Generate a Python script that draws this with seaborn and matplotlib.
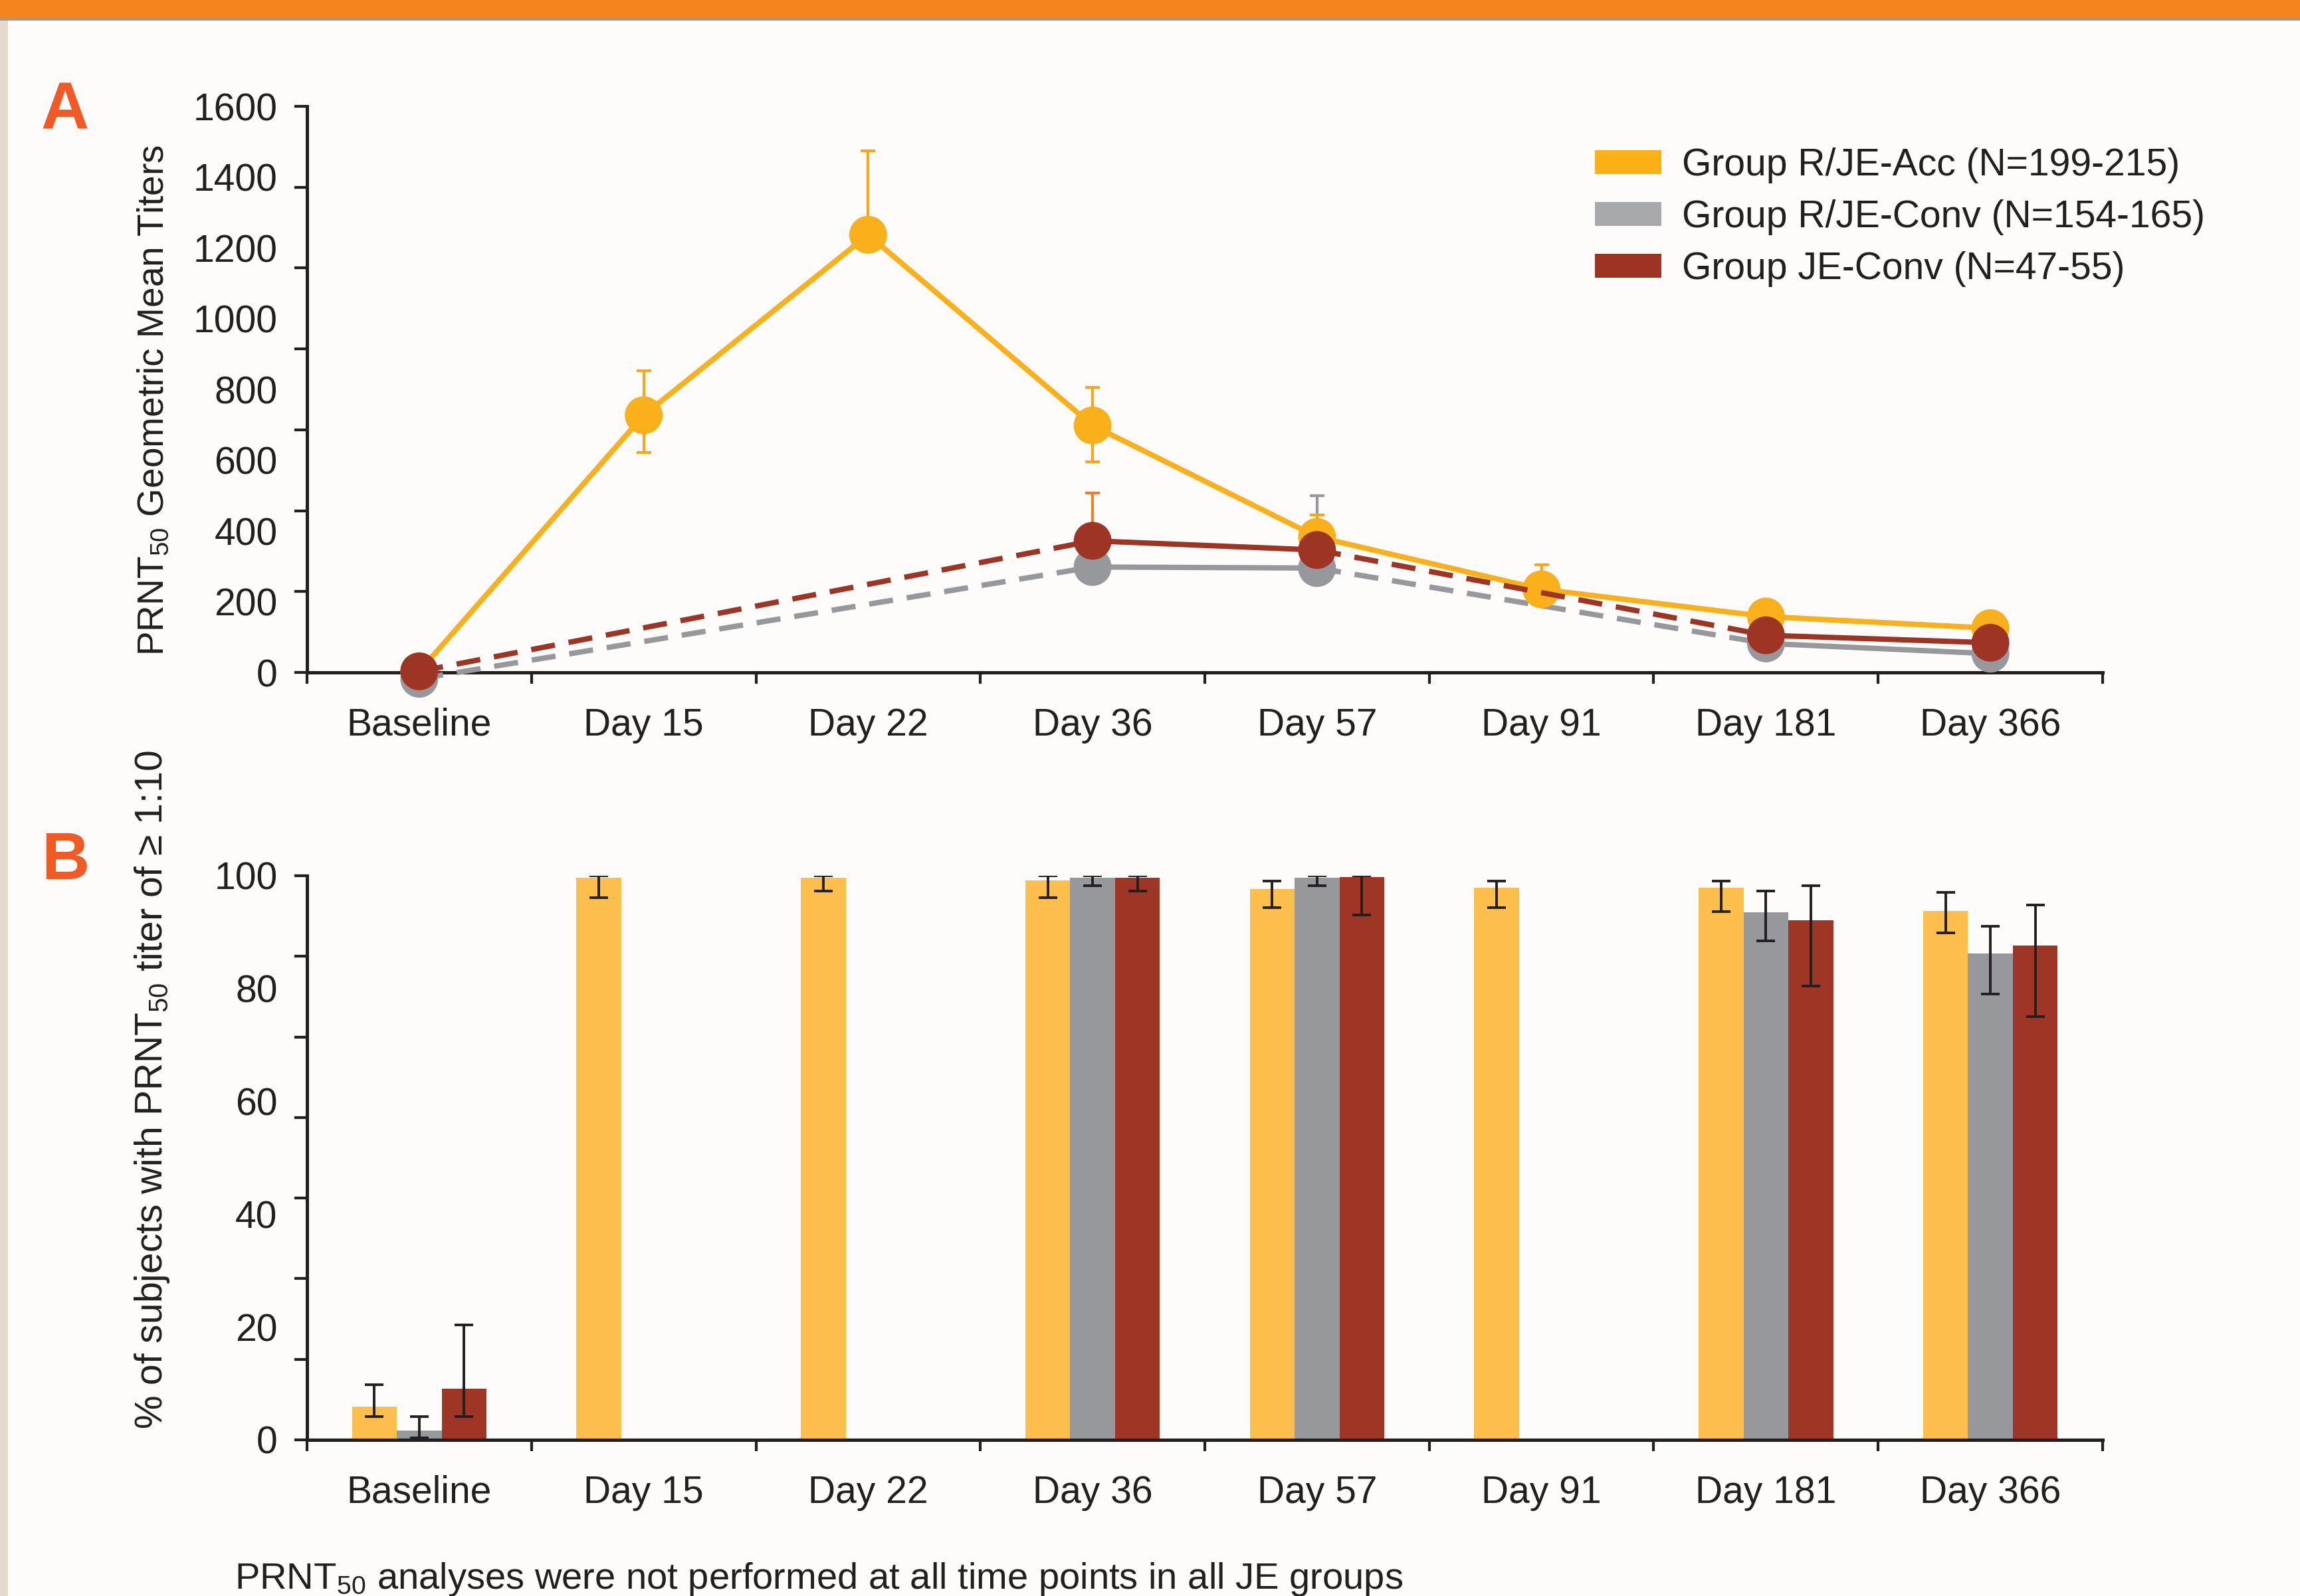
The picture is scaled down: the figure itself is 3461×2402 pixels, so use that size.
import numpy as np
import pandas as pd
import seaborn as sns
import matplotlib.pyplot as plt
from matplotlib.patches import Patch, Rectangle
from matplotlib.ticker import FixedLocator

# ---- data ----
timepoints = ["Baseline", "Day 15", "Day 22", "Day 36", "Day 57", "Day 91", "Day 181", "Day 366"]
groups = ["Group R/JE-Acc (N=199-215)", "Group R/JE-Conv (N=154-165)", "Group JE-Conv (N=47-55)"]

# panel A: PRNT50 geometric mean titers (NaN = not measured)
gmt_acc = [3, 727, 1237, 698, 383, 235, 158, 125]
gmt_acc_lo = [np.nan, 622, np.nan, 596, np.nan, np.nan, np.nan, np.nan]
gmt_acc_hi = [np.nan, 852, 1475, 806, 446, 304, np.nan, np.nan]
gmt_rconv = [-18, np.nan, np.nan, 298, 295, np.nan, 82, 53]
gmt_rconv_lo = [np.nan] * 8
gmt_rconv_hi = [np.nan, np.nan, np.nan, np.nan, 499, np.nan, np.nan, np.nan]
gmt_jeconv = [3, np.nan, np.nan, 372, 346, np.nan, 105, 84]
gmt_jeconv_lo = [np.nan] * 8
gmt_jeconv_hi = [np.nan, np.nan, np.nan, 508, np.nan, np.nan, np.nan, np.nan]

# panel B: % of subjects with PRNT50 titer >= 1:10
pct_acc = [5.9, 99.6, 99.6, 99.2, 97.6, 97.9, 97.9, 93.8]
pct_acc_lo = [4.1, 96.1, 97.3, 96.1, 94.3, 94.3, 93.6, 89.9]
pct_acc_hi = [9.8, 100, 100, 100, 99.0, 99.0, 99.0, 97.0]
pct_rconv = [1.7, np.nan, np.nan, 99.6, 99.6, np.nan, 93.5, 86.2]
pct_rconv_lo = [0.4, np.nan, np.nan, 98.2, 98.2, np.nan, 88.4, 79.0]
pct_rconv_hi = [4.1, np.nan, np.nan, 100, 100, np.nan, 97.3, 91.0]
pct_jeconv = [9.1, np.nan, np.nan, 99.6, 99.8, np.nan, 92.1, 87.6]
pct_jeconv_lo = [4.1, np.nan, np.nan, 97.3, 93.1, np.nan, 80.4, 75.0]
pct_jeconv_hi = [20.4, np.nan, np.nan, 100, 100, np.nan, 98.2, 94.8]

BG = "#FDFCFA"
INK = "#231F20"
line_colors = ["#F9B01A", "#97989B", "#9E3424"]
err_colors = ["#F9A61A", "#97989B", "#EE7F2D"]
bar_colors = ["#FDBE4C", "#96989B", "#9F3524"]
legend_colors = ["#FBB017", "#A7A9AC", "#9E3223"]
FS = 20.5


def style_axis(ax, ymax, ystep):
    sns.despine(ax=ax)
    for side in ("left", "bottom"):
        ax.spines[side].set_linewidth(1.8)
        ax.spines[side].set_color(INK)
    ax.set_facecolor("none")
    ax.set_xlim(-0.5, len(timepoints) - 0.5)
    ax.set_ylim(0, ymax)
    ax.set_xticks(range(len(timepoints)))
    ax.set_xticklabels(timepoints)
    ax.xaxis.set_minor_locator(FixedLocator(np.arange(-0.5, len(timepoints), 1.0)))
    ax.set_yticks(np.arange(0, ymax + 1, ystep))
    # the original draws its tick marks at sevenths of the range
    ax.yaxis.set_minor_locator(FixedLocator(np.linspace(0, ymax, 8)))
    ax.xaxis.remove_overlapping_locs = False
    ax.yaxis.remove_overlapping_locs = False
    ax.tick_params(which="major", length=0, labelsize=FS, labelcolor=INK)
    ax.tick_params(axis="x", which="major", pad=19)
    ax.tick_params(axis="y", which="major", pad=16)
    ax.tick_params(which="minor", direction="out", width=1.5, color=INK)
    ax.tick_params(axis="x", which="minor", length=6)
    ax.tick_params(axis="y", which="minor", length=7)


def draw_series(ax, x, y, lo, hi, color, ecolor, z):
    y = np.asarray(y, float)
    lo = np.asarray(lo, float)
    hi = np.asarray(hi, float)
    idx = [i for i in x if not np.isnan(y[i])]
    for a, b in zip(idx[:-1], idx[1:]):
        style = "-" if b - a == 1 else (0, (4.5, 2.6))
        sns.lineplot(x=[a, b], y=[y[a], y[b]], ax=ax, color=color, lw=2.9,
                     linestyle=style, sort=False, estimator=None, zorder=z, clip_on=False)
    low = np.where(np.isnan(lo), y, lo)
    high = np.where(np.isnan(hi), y, hi)
    has = ~(np.isnan(lo) & np.isnan(hi)) & ~np.isnan(y)
    if has.any():
        xs = np.asarray(x)[has]
        ax.errorbar(xs, y[has], yerr=[y[has] - low[has], high[has] - y[has]], fmt="none",
                    ecolor=ecolor, elinewidth=1.5, capsize=4.1, capthick=1.5, zorder=z + 0.1)
    sns.scatterplot(x=np.asarray(x)[~np.isnan(y)], y=y[~np.isnan(y)], ax=ax, s=420,
                    color=color, edgecolor="none", linewidth=0, zorder=z + 0.2, clip_on=False)


def main() -> None:
    plt.rcParams["font.family"] = ["Liberation Sans", "DejaVu Sans"]
    plt.rcParams["mathtext.default"] = "regular"

    fig = plt.figure(figsize=(17.31, 12.01), dpi=200, facecolor=BG)
    ax_a = fig.add_axes([0.13345, 0.57868, 0.78047, 0.35470])
    ax_b = fig.add_axes([0.13345, 0.09784, 0.78047, 0.35346])

    # header band and left edge
    fig.add_artist(Rectangle((0, 1 - 27 / 2402), 1, 27 / 2402, transform=fig.transFigure,
                             color="#F5841F", lw=0))
    fig.add_artist(Rectangle((0, 1 - 31 / 2402), 1, 4 / 2402, transform=fig.transFigure,
                             color="#9A9A9E", lw=0))
    fig.add_artist(Rectangle((0, 0), 12 / 3462, 1 - 31 / 2402, transform=fig.transFigure,
                             color="#E6DACB", lw=0))

    # ---- panel A ----
    x = list(range(len(timepoints)))
    draw_series(ax_a, x, gmt_rconv, gmt_rconv_lo, gmt_rconv_hi, line_colors[1], err_colors[1], 3)
    draw_series(ax_a, x, gmt_acc, gmt_acc_lo, gmt_acc_hi, line_colors[0], err_colors[0], 4)
    draw_series(ax_a, x, gmt_jeconv, gmt_jeconv_lo, gmt_jeconv_hi, line_colors[2], err_colors[2], 5)
    style_axis(ax_a, 1600, 200)
    ax_a.set_xlabel("")
    ax_a.set_ylabel(r"PRNT$_{50}$ Geometric Mean Titers", fontsize=19.8, color=INK)
    ax_a.yaxis.set_label_coords(-0.0755, 0.481)

    handles = [Patch(facecolor=c, edgecolor="none") for c in legend_colors]
    fig.legend(handles, groups, loc="upper left", bbox_to_anchor=(2400 / 3462, 1 - 222 / 2402),
               frameon=False, fontsize=FS, handlelength=1.75, handleheight=0.6,
               handletextpad=0.55, labelspacing=0.42, borderpad=0, borderaxespad=0,
               labelcolor=INK)

    # ---- panel B ----
    series = [(pct_acc, pct_acc_lo, pct_acc_hi), (pct_rconv, pct_rconv_lo, pct_rconv_hi),
              (pct_jeconv, pct_jeconv_lo, pct_jeconv_hi)]
    rows = []
    for g, (vals, lo, hi) in zip(groups, series):
        for t, v in zip(timepoints, vals):
            rows.append({"timepoint": t, "group": g, "pct": v})
    df = pd.DataFrame(rows)
    sns.barplot(data=df, x="timepoint", y="pct", hue="group", order=timepoints,
                hue_order=groups, palette=bar_colors, saturation=1, width=0.6, gap=0,
                errorbar=None, linewidth=0, legend=False, ax=ax_b, zorder=2)

    # error bars centred on the drawn bars
    for patch in ax_b.patches:
        w = patch.get_width()
        cx = patch.get_x() + w / 2
        ti = int(round(cx))
        gi = int(round((cx - ti) / w)) + 1
        vals, lo, hi = series[gi]
        if np.isnan(vals[ti]):
            continue
        ax_b.errorbar([cx], [vals[ti]], yerr=[[vals[ti] - lo[ti]], [hi[ti] - vals[ti]]],
                      fmt="none", ecolor=INK, elinewidth=1.4, capsize=4.9, capthick=1.4,
                      zorder=3)

    style_axis(ax_b, 100, 20)
    ax_b.set_xlabel("")
    ax_b.set_ylabel(r"% of subjects with PRNT$_{50}$ titer of ≥ 1:10", fontsize=FS, color=INK)
    ax_b.yaxis.set_label_coords(-0.0755, 0.62)

    # panel letters and footnote
    fig.text(62 / 3462, 1 - 168 / 2402, "A", fontsize=36, weight="bold", color="#F15A24",
             va="center", ha="left")
    fig.text(62 / 3462, 1 - 1297 / 2402, "B", fontsize=36, weight="bold", color="#F15A24",
             va="center", ha="left")
    fig.text(353 / 3462, 11 / 2402,
             r"PRNT$_{50}$ analyses were not performed at all time points in all JE groups",
             fontsize=20.2, color=INK, va="baseline", ha="left")

    fig.savefig("out.png", dpi=200, facecolor=BG)


if __name__ == "__main__":
    main()
